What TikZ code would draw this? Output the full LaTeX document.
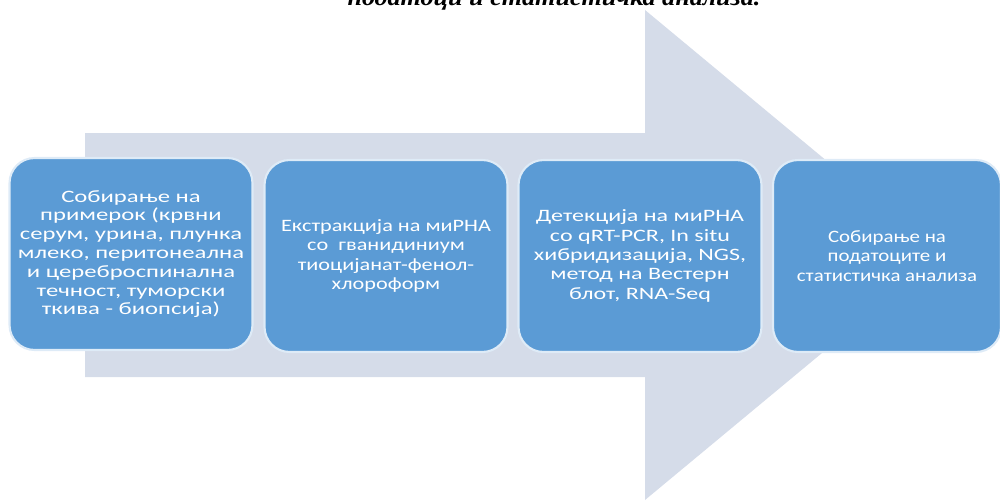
\documentclass[tikz,border=0pt]{standalone}
\usepackage{fontspec}
\newfontfamily\boxfontA[FakeStretch=1.42]{Carlito}
\newfontfamily\boxfontB[FakeStretch=1.28]{Carlito}
\newfontfamily\boxfontC[FakeStretch=1.38]{Carlito}
\newfontfamily\boxfontD[FakeStretch=1.2]{Carlito}
\newfontfamily\titlefont[FakeStretch=1.1]{Liberation Serif}
\definecolor{arrowfill}{RGB}{213,220,233}
\definecolor{boxfill}{RGB}{91,155,213}
\definecolor{boxline}{RGB}{222,235,247}
\begin{document}
\begin{tikzpicture}[x=0.02cm,y=-0.02cm,
  stage/.style={draw=boxline, line width=1.2pt, fill=boxfill, rounded corners=0.5cm,
    minimum height=3.84cm, text=white, align=center, inner sep=2pt},
  titletext/.style={font=\titlefont\bfseries\itshape\fontsize{13.5}{16}\selectfont, anchor=base}]
\useasboundingbox (0,0) rectangle (1000,500);
\clip (0,0) rectangle (1000,500);
% big background arrow
\fill[arrowfill] (85,133) -- (645,133) -- (645,10) -- (940,255) -- (645,500) -- (645,377) -- (85,377) -- cycle;
% partially visible caption line (cut at the top edge, as in the source)
\node[titletext] (title) at (554,6) {податоци и статистичка анализа.};
% stages
\node[stage, minimum width=4.86cm, font=\boxfontA\fontsize{9.9}{10.7}\selectfont] (s1) at (131,254) {Собирање на\\примерок (крвни\\серум, урина, плунка\\млеко, перитонеална\\и цереброспинална\\течност, туморски\\ткива - биопсија)};
\node[stage, minimum width=4.86cm, font=\boxfontB\fontsize{9.9}{11}\selectfont] (s2) at (386,256) {Екстракција на миРНА\\со \ гванидиниум\\тиоцијанат-фенол-\\хлороформ};
\node[stage, minimum width=4.86cm, font=\boxfontC\fontsize{9.9}{11}\selectfont] (s3) at (640,256) {Детекција на миРНА\\со qRT-PCR, In situ\\хибридизација, NGS,\\метод на Вестерн\\блот, RNA-Seq};
\node[stage, minimum width=4.56cm, font=\boxfontD\fontsize{9.9}{11.3}\selectfont] (s4) at (887,256) {Собирање на\\податоците и\\статистичка анализа};
\end{tikzpicture}
\end{document}
